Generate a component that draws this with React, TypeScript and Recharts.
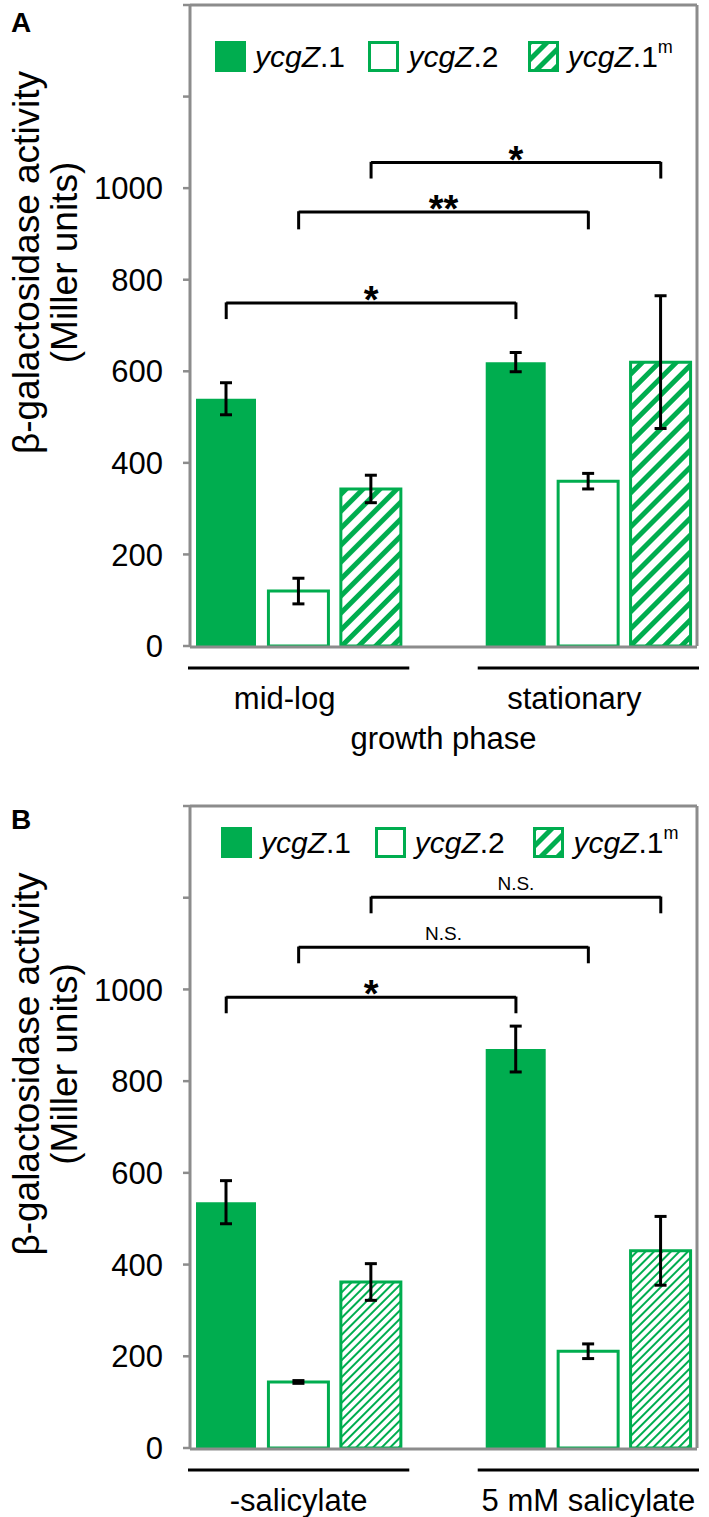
import React from 'react';
import { BarChart, Bar, XAxis, YAxis, Cell, ErrorBar, ReferenceLine, Legend } from 'recharts';

// ---------- data ----------
const strainGene = 'ycgZ';
const strainSuffix = ['.1', '.2', '.1'];
const strainSup = ['', '', 'm'];

const phasesA = ['mid-log', 'stationary'];
const meansA = [
  [540, 120, 343],
  [620, 360, 620],
];
const errsA = [
  [35, 28, 30],
  [21, 17, 145],
];

const conditionsB = ['-salicylate', '5 mM salicylate'];
const meansB = [
  [536, 144, 362],
  [870, 211, 430],
];
const errsB = [
  [47, 3, 40],
  [50, 16, 75],
];

const yTicks = [0, 200, 400, 600, 800, 1000, 1200, 1400];
const yLabelMax = 1000;
const yDomain: [number, number] = [0, 1400];
const yTitleLines = ['β-galactosidase activity', '(Miller units)'];

// brackets: strain index compared between the two groups
const bracketsA = [
  { strain: 0, y: 749, leg: 35, text: '*' },
  { strain: 1, y: 948, leg: 38, text: '**' },
  { strain: 2, y: 1056, leg: 35, text: '*' },
];
const bracketsB = [
  { strain: 0, y: 983, leg: 35, text: '*' },
  { strain: 1, y: 1092, leg: 35, text: 'N.S.' },
  { strain: 2, y: 1201, leg: 35, text: 'N.S.' },
];

// ---------- style ----------
const GREEN = '#00ad4f';
const FRAME = '#8c8c8c';
const FONT = '"Liberation Sans", Arial, Helvetica, sans-serif';
const CHART_W = 709;
const Y_AXIS_W = 190;
const RIGHT_M = 11;
const FS = 31;

type Row = {
  slot: string;
  group: string;
  strain: number;
  value: number | null;
  err: number | null;
  mid: boolean;
};

function buildRows(groups: string[], means: number[][], errs: number[][]): Row[] {
  const rows: Row[] = [];
  groups.forEach((g, gi) => {
    if (gi > 0) rows.push({ slot: `gap${gi}`, group: '', strain: -1, value: null, err: null, mid: false });
    strainSuffix.forEach((_, si) => {
      rows.push({
        slot: `${g}|${si}`,
        group: g,
        strain: si,
        value: means[gi][si],
        err: errs[gi][si],
        mid: si === 1,
      });
    });
  });
  return rows;
}

const StrainName = ({ i }: { i: number }) => (
  <span>
    <i>{strainGene}</i>
    {strainSuffix[i]}
    {strainSup[i] ? (
      <span style={{ fontSize: '0.6em', position: 'relative', top: '-0.8em', lineHeight: 0 }}>{strainSup[i]}</span>
    ) : null}
  </span>
);

const LegendSwatch = ({ i, id }: { i: number; id: string }) => (
  <svg width={31} height={31} style={{ display: 'block', flex: 'none' }}>
    <defs>
      <pattern id={id} patternUnits="userSpaceOnUse" width={12} height={12} patternTransform="rotate(45)">
        <rect width={12} height={12} fill="#fff" />
        <rect width={5} height={12} fill={GREEN} />
      </pattern>
    </defs>
    {i === 0 && <rect x={0} y={0} width={31} height={31} fill={GREEN} />}
    {i === 1 && <rect x={1.5} y={1.5} width={28} height={28} fill="#fff" stroke={GREEN} strokeWidth={3} />}
    {i === 2 && <rect x={1.5} y={1.5} width={28} height={28} fill={`url(#${id})`} stroke={GREEN} strokeWidth={3} />}
  </svg>
);

const makeLegend = (prefix: string, widths: number[]) => () => (
  <div style={{ display: 'flex', alignItems: 'flex-start', fontFamily: FONT, fontSize: 30, color: '#000', height: 31 }}>
    {strainSuffix.map((_, i) => (
      <div key={i} style={{ display: 'flex', alignItems: 'flex-start', width: widths[i], height: 31 }}>
        <LegendSwatch i={i} id={`${prefix}-lg-${i}`} />
        <div style={{ marginLeft: 9, height: 31, lineHeight: '31px', whiteSpace: 'nowrap' }}>
          <StrainName i={i} />
        </div>
      </div>
    ))}
  </div>
);

const makeGroupTick = (rows: Row[], band: number, labelShift: number) => (props: any) => {
  const { x, y, payload } = props;
  const row = rows.find((r) => r.slot === payload.value);
  if (!row || !row.mid) return <g />;
  return (
    <g>
      <line x1={x - 1.5 * band - 2} x2={x + 1.5 * band + 2} y1={y + 22} y2={y + 22} stroke="#000" strokeWidth={3} />
      <text x={x + labelShift} y={y + 63} textAnchor="middle" fontSize={FS} fontFamily={FONT} fill="#000">
        {row.group}
      </text>
    </g>
  );
};

const YTick = (props: any) => {
  const { x, y, payload } = props;
  const v = payload.value as number;
  if (v > yLabelMax) return <g />;
  return (
    <text x={x} y={y} dy="0.36em" textAnchor="end" fontSize={FS} fontFamily={FONT} fill="#000">
      {String(v)}
    </text>
  );
};

const makeYTitle = () => (props: any) => {
  const vb = props.viewBox || {};
  const cy = vb.y + vb.height / 2 - 63;
  return (
    <g fontFamily={FONT} fontSize={37} fill="#000">
      <text transform={`translate(39, ${cy}) rotate(-90)`} textAnchor="middle">
        {yTitleLines[0]}
      </text>
      <text transform={`translate(77, ${cy}) rotate(-90)`} textAnchor="middle">
        {yTitleLines[1]}
      </text>
    </g>
  );
};

type PanelProps = {
  id: string;
  groups: string[];
  means: number[][];
  errs: number[][];
  brackets: { strain: number; y: number; leg: number; text: string }[];
  height: number;
  bottom: number;
  legendTop: number;
  legendLeft: number;
  legendWidths: number[];
  hatchW: number;
  hatchT: number;
  labelShift: number;
  xTitle?: string;
};

const Panel = ({
  id,
  groups,
  means,
  errs,
  brackets,
  height,
  bottom,
  legendTop,
  legendLeft,
  legendWidths,
  hatchW,
  hatchT,
  labelShift,
  xTitle,
}: PanelProps) => {
  const rows = buildRows(groups, means, errs);
  const band = (CHART_W - Y_AXIS_W - RIGHT_M - 1) / rows.length;
  const edgeTicks = rows.map((_, i) => i).concat(rows.length);
  const hatchId = `${id}-hatch`;
  const slotOf = (gi: number, si: number) => `${groups[gi]}|${si}`;
  return (
    <BarChart
      width={CHART_W}
      height={height}
      data={rows}
      margin={{ top: 4, right: RIGHT_M, left: 0, bottom }}
      barSize={60}
    >
      <defs>
        <pattern id={hatchId} patternUnits="userSpaceOnUse" width={hatchW} height={hatchW} patternTransform="rotate(45)">
          <rect width={hatchW} height={hatchW} fill="#fff" />
          <rect width={hatchT} height={hatchW} fill={GREEN} />
        </pattern>
      </defs>
      <XAxis
        xAxisId="edges"
        type="number"
        domain={[0, rows.length]}
        ticks={edgeTicks}
        allowDataOverflow
        tick={false}
        tickSize={7}
        height={1}
        axisLine={{ stroke: FRAME, strokeWidth: 3 }}
        tickLine={{ stroke: FRAME, strokeWidth: 2.5 }}
      />
      <XAxis
        dataKey="slot"
        height={1}
        axisLine={false}
        tickLine={false}
        tickSize={0}
        tickMargin={0}
        interval={0}
        tick={makeGroupTick(rows, band, labelShift)}
        label={
          xTitle
            ? { value: xTitle, position: 'bottom', offset: 80, fontSize: FS, fontFamily: FONT, fill: '#000' }
            : undefined
        }
      />
      <XAxis
        xAxisId="top"
        orientation="top"
        dataKey="slot"
        height={1}
        tick={false}
        tickLine={false}
        axisLine={{ stroke: FRAME, strokeWidth: 3 }}
      />
      <YAxis
        width={Y_AXIS_W}
        domain={yDomain}
        ticks={yTicks}
        interval={0}
        allowDataOverflow
        tickSize={7}
        tickMargin={20}
        tick={<YTick />}
        axisLine={{ stroke: FRAME, strokeWidth: 3 }}
        tickLine={{ stroke: FRAME, strokeWidth: 2.5 }}
        label={makeYTitle()}
      />
      <YAxis
        yAxisId="right"
        orientation="right"
        width={1}
        domain={yDomain}
        allowDataOverflow
        tick={false}
        tickLine={false}
        axisLine={{ stroke: FRAME, strokeWidth: 3 }}
      />
      <Legend
        verticalAlign="middle"
        align="center"
        content={makeLegend(id, legendWidths)}
        wrapperStyle={{ top: legendTop, left: legendLeft, width: 480, height: 31 }}
      />
      <Bar dataKey="value" isAnimationActive={false}>
        {rows.map((r, i) => (
          <Cell
            key={i}
            fill={r.strain === 0 ? GREEN : r.strain === 1 ? '#fff' : `url(#${hatchId})`}
            stroke={r.strain === 0 ? 'none' : GREEN}
            strokeWidth={r.strain === 0 ? 0 : 3}
          />
        ))}
        <ErrorBar dataKey="err" width={6} strokeWidth={3} stroke="#000" direction="y" />
      </Bar>
      {brackets.map((b, i) => (
        <ReferenceLine
          key={`h${i}`}
          segment={[
            { x: slotOf(0, b.strain), y: b.y },
            { x: slotOf(1, b.strain), y: b.y },
          ]}
          stroke="#000"
          strokeWidth={3}
          ifOverflow="visible"
          label={
            b.text === 'N.S.'
              ? { value: b.text, position: 'top', offset: 7, fontSize: 19, fontFamily: FONT, fill: '#000' }
              : { value: b.text, position: 'top', offset: -10, fontSize: 38, fontWeight: 700, fontFamily: FONT, fill: '#000' }
          }
        />
      ))}
      {brackets.map((b, i) => (
        <ReferenceLine
          key={`l${i}`}
          segment={[
            { x: slotOf(0, b.strain), y: b.y + 1.5 },
            { x: slotOf(0, b.strain), y: b.y - b.leg },
          ]}
          stroke="#000"
          strokeWidth={3}
          ifOverflow="visible"
        />
      ))}
      {brackets.map((b, i) => (
        <ReferenceLine
          key={`r${i}`}
          segment={[
            { x: slotOf(1, b.strain), y: b.y + 1.5 },
            { x: slotOf(1, b.strain), y: b.y - b.leg },
          ]}
          stroke="#000"
          strokeWidth={3}
          ifOverflow="visible"
        />
      ))}
    </BarChart>
  );
};

export default function App() {
  return (
    <div style={{ position: 'absolute', left: 0, top: 0, width: 709, height: 1517, background: '#fff', fontFamily: FONT }}>
      <div style={{ position: 'absolute', left: 11, top: 8, fontSize: 28, fontWeight: 700, lineHeight: '30px' }}>A</div>
      <div style={{ position: 'absolute', left: 11, top: 805, fontSize: 28, fontWeight: 700, lineHeight: '30px' }}>B</div>
      <div style={{ position: 'absolute', left: 0, top: 0 }}>
        <Panel
          id="a"
          groups={phasesA}
          means={meansA}
          errs={errsA}
          brackets={bracketsA}
          height={757}
          bottom={109}
          legendTop={41}
          legendLeft={215}
          legendWidths={[156, 162, 170]}
          hatchW={12}
          hatchT={5}
          labelShift={-14}
          xTitle="growth phase"
        />
      </div>
      <div style={{ position: 'absolute', left: 0, top: 801 }}>
        <Panel
          id="b"
          groups={conditionsB}
          means={meansB}
          errs={errsB}
          brackets={bracketsB}
          height={716}
          bottom={67}
          legendTop={26}
          legendLeft={221}
          legendWidths={[156, 161, 170]}
          hatchW={6}
          hatchT={2}
          labelShift={0}
        />
      </div>
    </div>
  );
}
